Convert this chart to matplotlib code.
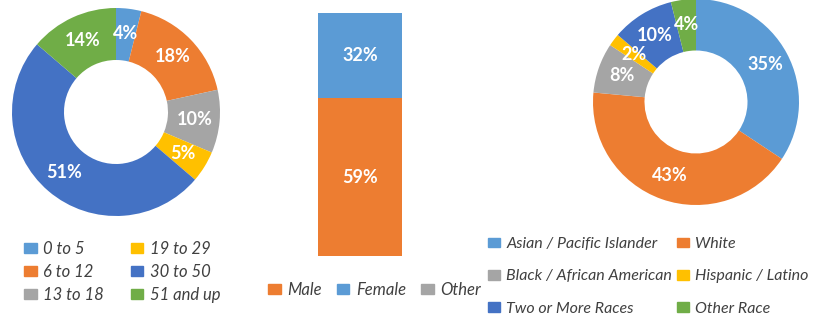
import matplotlib
matplotlib.use("Agg")
import matplotlib.pyplot as plt
from matplotlib.patches import Patch

# age groups (left donut)
age_labels = ["0 to 5", "6 to 12", "13 to 18", "19 to 29", "30 to 50", "51 and up"]
age_values = [4, 18, 10, 5, 51, 14]

# gender (middle stacked bar)
gender_labels = ["Male", "Female", "Other"]
gender_values = [59, 32, 0]

# race (right donut)
race_labels = ["Asian / Pacific Islander", "White", "Black / African American",
               "Hispanic / Latino", "Two or More Races", "Other Race"]
race_values = [35, 43, 8, 2, 10, 4]

LBLUE, ORANGE, GRAY, YELLOW, BLUE, GREEN = "#5B9BD5", "#ED7D31", "#A5A5A5", "#FFC000", "#4472C4", "#70AD47"
age_colors = [LBLUE, ORANGE, GRAY, YELLOW, BLUE, GREEN]
gender_colors = [ORANGE, LBLUE, GRAY]
race_colors = [LBLUE, ORANGE, GRAY, YELLOW, BLUE, GREEN]

plt.rcParams['font.family'] = ['Lato', 'DejaVu Sans']

W, H = 827, 317
fig = plt.figure(figsize=(W / 100, H / 100), dpi=100)


def px_axes(x0, y0, w, h):
    # pixel box (top-left origin) -> figure axes
    return fig.add_axes([x0 / W, (H - y0 - h) / H, w / W, h / H])


def donut(ax, values, colors):
    wedges, _, texts = ax.pie(values, colors=colors, startangle=90, counterclock=False,
                              radius=1.0, wedgeprops=dict(width=0.5, edgecolor='none'),
                              autopct=lambda p: "", pctdistance=0.76)
    for t, v in zip(texts, values):
        t.set_text(f"{v}%")
        t.set_color("white")
        t.set_fontsize(13)
        t.set_fontweight("bold")
    ax.set_xlim(-1, 1)
    ax.set_ylim(-1, 1)
    ax.set_aspect('equal')
    ax.axis('off')


ax1 = px_axes(12, 8, 208, 208)
donut(ax1, age_values, age_colors)

ax3 = px_axes(593, -1, 206, 206)
donut(ax3, race_values, race_colors)

# stacked bar
ax2 = px_axes(318, 13, 84, 243)
bottom = 0
for lab, val, col in zip(gender_labels, gender_values, gender_colors):
    bars = ax2.bar([0], [val], bottom=bottom, width=1.0, color=col, label=lab)
    if val > 0:
        ax2.bar_label(bars, labels=[f"{val}%"], label_type='center', color='white',
                      fontsize=13, fontweight='bold')
    bottom += val
ax2.set_xlim(-0.5, 0.5)
ax2.set_ylim(0, sum(gender_values))
ax2.axis('off')

leg_kw = dict(frameon=False, borderpad=0, borderaxespad=0, handlelength=0.75,
              handleheight=0.55, handletextpad=0.4, labelcolor='#404040')

h_age = [Patch(color=c) for c in age_colors]
fig.legend(h_age, age_labels, ncol=2, loc='upper left', prop=dict(style='italic', size=12),
           bbox_to_anchor=(24 / W, (H - 241) / H), labelspacing=0.42, columnspacing=1.6, **leg_kw)

h_gen = [Patch(color=c) for c in gender_colors]
fig.legend(h_gen, gender_labels, ncol=3, loc='upper left', prop=dict(style='italic', size=12),
           bbox_to_anchor=(268 / W, (H - 282) / H), columnspacing=0.9, **leg_kw)

order = [0, 2, 4, 1, 3, 5]
h_race = [Patch(color=race_colors[i]) for i in order]
fig.legend(h_race, [race_labels[i] for i in order], ncol=2, loc='upper left',
           prop=dict(style='italic', size=11.5),
           bbox_to_anchor=(488 / W, (H - 237) / H), labelspacing=1.15, columnspacing=0.3, **leg_kw)

fig.savefig("out.png", dpi=100)
